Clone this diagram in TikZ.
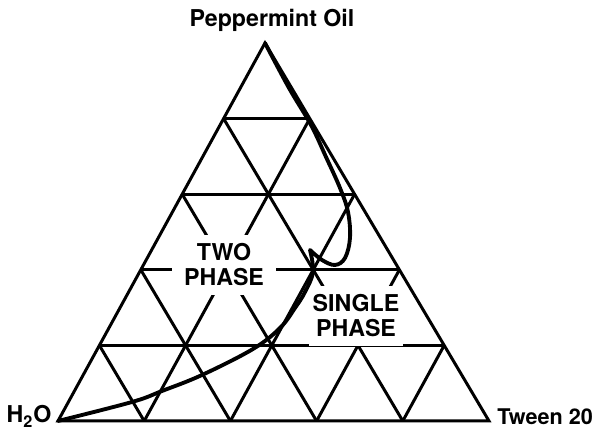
\documentclass[tikz,border=0pt]{standalone}
\usepackage{fontspec}
\setmainfont{TeX Gyre Heros}
\usetikzlibrary{calc}

\tikzset{
  edge/.style={line width=1.7pt, line join=miter},
  boundary/.style={line width=2.2pt, line join=round, line cap=round},
  vertexlabel/.style={inner sep=0pt, font=\fontsize{13.2}{15}\selectfont\bfseries},
  phaselabel/.style={fill=white, align=center, inner ysep=5pt, font=\fontsize{13.2}{14.2}\selectfont\bfseries}
}

\begin{document}
\begin{tikzpicture}[x=0.02cm, y=0.02cm]
  \useasboundingbox (0,0) rectangle (596,431);

  % --- corners of the phase diagram ---
  \coordinate (W) at (58,10);
  \coordinate (T) at (489,10);
  \coordinate (P) at (265,388);

  % --- grid (fifths) ---
  \foreach \k in {1,...,4} {
    \draw[edge] ($(W)!\k/5!(P)$) -- ($(T)!\k/5!(P)$);
    \draw[edge] ($(W)!\k/5!(T)$) -- ($(T)!1-\k/5!(P)$);
    \draw[edge] ($(W)!\k/5!(T)$) -- ($(W)!\k/5!(P)$);
  }

  % --- region labels (white boxes cut the grid) ---
  \node[phaselabel, inner xsep=7pt] (twophase) at (224,166) {TWO\\PHASE};
  \node[phaselabel, inner xsep=2pt] (singlephase) at (356,115) {SINGLE\\PHASE};

  % --- outer triangle ---
  \draw[edge] (W) -- (T) -- (P) -- cycle;

  % --- phase boundary ---
  \draw[boundary] plot[smooth, tension=0.6] coordinates {
      (265,388) (289,343) (311,306) (326,274) (340,243) (348,219)
      (350,193) (345,173) (335,166) (322,171) (310,181)}
    -- plot[smooth, tension=0.6] coordinates {
      (310,181) (313,159) (305,139) (295,123) (280,103) (253,82)
      (202,56) (162,40) (132,29) (58,10)};

  % --- corner names ---
  \node[vertexlabel, anchor=base] (peppermint) at (272,404) {Peppermint Oil};
  \node[vertexlabel, anchor=base] (water) at (29,8) {H\textsubscript{2}O};
  \node[vertexlabel, font=\fontsize{12.3}{14}\selectfont\bfseries, anchor=base west] (tween) at (497,6) {Tween 20};
\end{tikzpicture}
\end{document}
